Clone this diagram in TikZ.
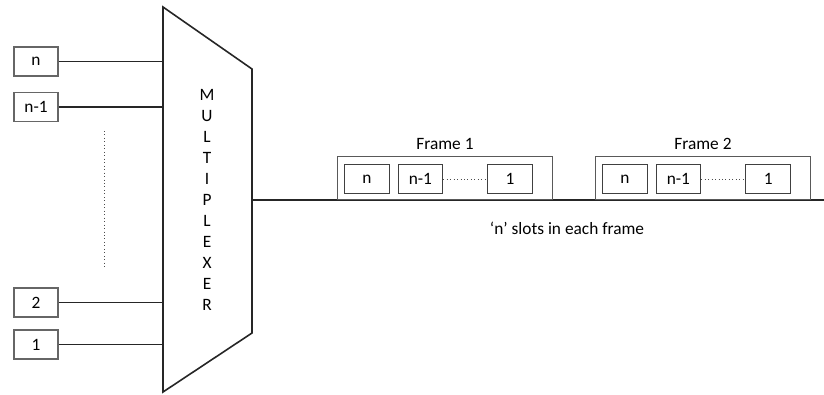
\documentclass[tikz,border=0pt]{standalone}
\usepackage{fontspec}
\setmainfont{Carlito}
\usetikzlibrary{positioning,calc}
\tikzset{
  inbox/.style={draw=black!60, line width=0.8pt, minimum width=33pt, minimum height=21.75pt, inner sep=0pt},
  slotbox/.style={draw=black!75, line width=0.7pt, minimum width=33.5pt, minimum height=21.75pt, inner sep=0pt},
  framebox/.style={draw=black!65, line width=0.7pt, minimum width=161.25pt, minimum height=32.25pt, inner sep=0pt},
  wire/.style={line width=1.2pt, black!85},
  dotln/.style={line width=0.6pt, dotted, black!70},
}
\begin{document}
\begin{tikzpicture}[x=0.75pt, y=-0.75pt, font=\fontsize{13}{15}\selectfont]
  \useasboundingbox (0,0) rectangle (824,394);
  % multiplexer body
  \draw[wire] (163,7) -- (252,69) -- (252,333) -- (163,392) -- cycle;
  \coordinate (muxL) at (163,200);
  \coordinate (muxR) at (252,200);
  \node[align=center, font=\fontsize{13}{15.75}\selectfont] (mux) at (207,200)
    {M\\U\\L\\T\\I\\P\\L\\E\\X\\E\\R};
  % inputs
  \node[inbox] (inN) at (36,61.5) {n};
  \node[inbox] (inN1) at (36,107) {n-1};
  \node[inbox] (in2) at (36,302.5) {2};
  \node[inbox] (in1) at (36,344.5) {1};
  \foreach \i in {inN,inN1,in2,in1}
    \draw[wire] (\i.east) -- (\i.east -| muxL);
  \coordinate (vtop) at (104,131);
  \coordinate (vbot) at (104,268);
  \draw[dotln] (vtop) -- (vbot);
  % output line
  \coordinate (outEnd) at (824,200);
  \draw[wire] (muxR) -- (outEnd);
  % frames
  \foreach \f/\x in {1/337,2/595}{
    \node[framebox, anchor=south west] (fr\f) at (\x,200) {};
    \node[above=1pt of fr\f] (lab\f) {Frame \f};
    \node[slotbox, right=5.25pt of fr\f.west, yshift=-0.75pt] (s\f n) {n};
    \node[slotbox, right=6pt of s\f n] (s\f m) {n-1};
    \node[slotbox, left=15pt of fr\f.east, yshift=-0.75pt] (s\f o) {1};
    \draw[dotln] (s\f m) -- (s\f o);
  }
  \node (note) at (567,228) {‘n’ slots in each frame};
\end{tikzpicture}
\end{document}
